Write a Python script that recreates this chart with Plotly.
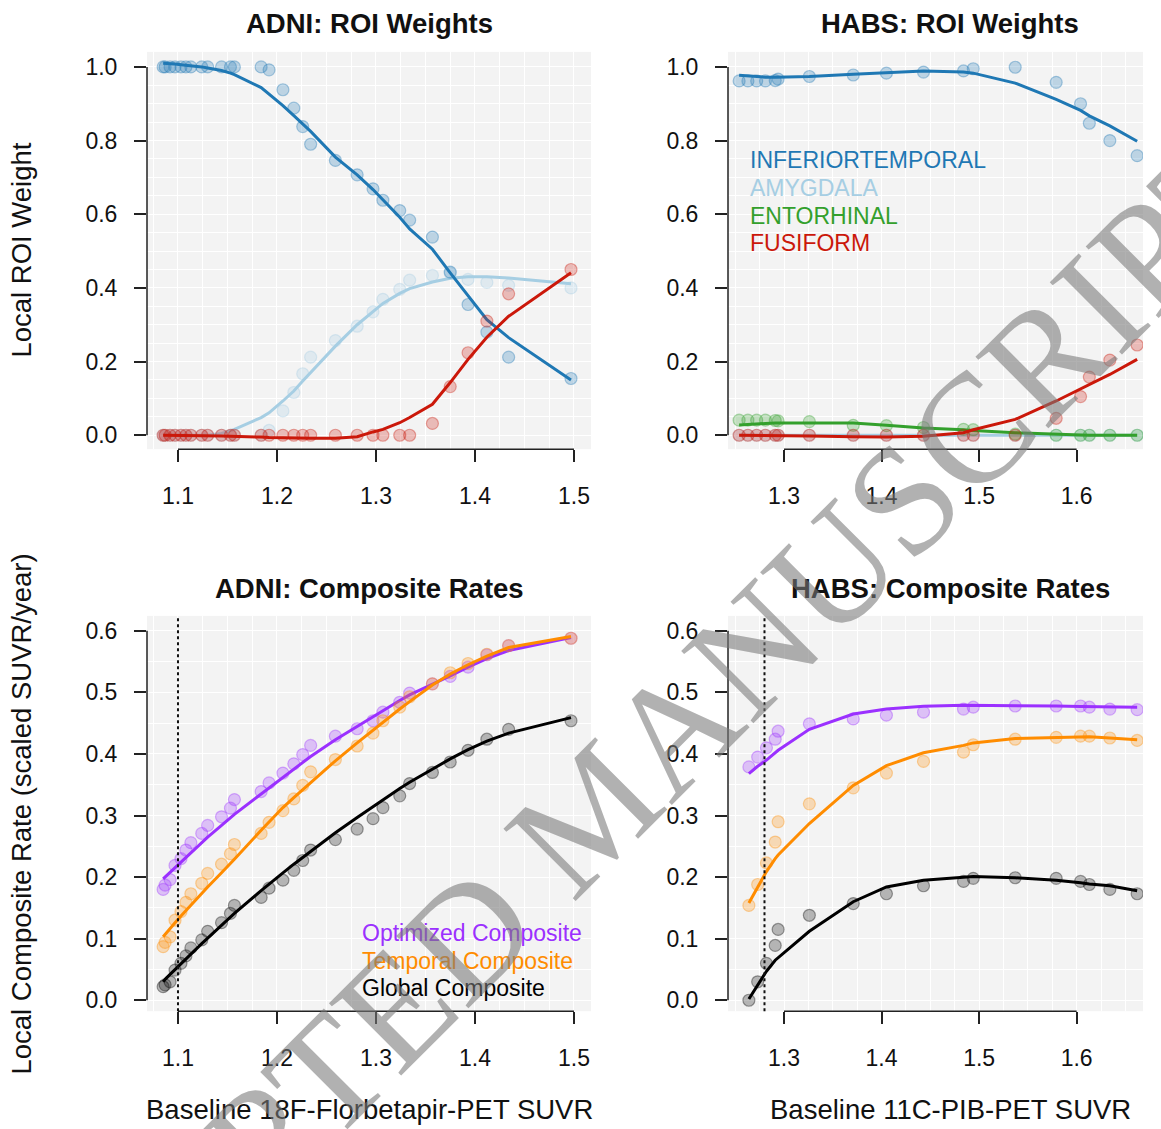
import plotly.graph_objects as go

W, H = 1161, 1129

# ---------------- data ----------------
adni_x = [1.085, 1.087, 1.092, 1.097, 1.103, 1.108, 1.113, 1.124, 1.130, 1.144,
          1.153, 1.157, 1.184, 1.192, 1.206, 1.217, 1.226, 1.234, 1.259, 1.281,
          1.297, 1.307, 1.324, 1.334, 1.357, 1.375, 1.393, 1.412, 1.434, 1.497]

adni_it_pts = [1.000, 1.000, 1.000, 1.000, 1.000, 1.000, 1.000, 1.000, 1.000, 1.000,
               1.000, 1.000, 1.000, 0.992, 0.938, 0.888, 0.838, 0.790, 0.746, 0.707,
               0.669, 0.638, 0.610, 0.584, 0.538, 0.443, 0.355, 0.280, 0.212, 0.154]
adni_it_fit = [1.010, 1.010, 1.009, 1.008, 1.006, 1.005, 1.003, 1.000, 0.997, 0.990,
               0.983, 0.979, 0.944, 0.927, 0.895, 0.868, 0.845, 0.825, 0.755, 0.707,
               0.667, 0.640, 0.592, 0.560, 0.505, 0.441, 0.378, 0.314, 0.265, 0.150]
adni_amy_pts = [0.000, 0.000, 0.000, 0.000, 0.000, 0.000, 0.000, 0.000, 0.000, 0.000,
                0.000, 0.000, 0.000, 0.013, 0.066, 0.116, 0.167, 0.212, 0.257, 0.296,
                0.335, 0.369, 0.396, 0.421, 0.434, 0.440, 0.423, 0.415, 0.407, 0.400]
adni_amy_fit = [0.000, 0.000, 0.000, 0.000, 0.000, 0.000, 0.000, 0.000, 0.000, 0.005,
                0.012, 0.016, 0.048, 0.061, 0.093, 0.120, 0.147, 0.170, 0.242, 0.300,
                0.336, 0.358, 0.385, 0.398, 0.416, 0.426, 0.430, 0.430, 0.427, 0.411]
adni_fus_pts = [0.000, 0.000, 0.000, 0.000, 0.000, 0.000, 0.000, 0.000, 0.000, 0.000,
                0.000, 0.000, 0.000, 0.000, 0.000, 0.000, 0.000, 0.000, 0.000, 0.000,
                0.000, 0.000, 0.000, 0.000, 0.032, 0.132, 0.224, 0.310, 0.384, 0.450]
adni_fus_fit = [0.000, 0.000, 0.000, 0.000, 0.000, 0.000, 0.000, 0.000, 0.000, -0.002,
                -0.003, -0.003, -0.005, -0.006, -0.007, -0.008, -0.008, -0.008, -0.008, -0.004,
                0.009, 0.016, 0.034, 0.048, 0.084, 0.143, 0.206, 0.266, 0.323, 0.441]

adni_opt_pts = [0.180, 0.187, 0.196, 0.219, 0.230, 0.244, 0.256, 0.271, 0.284, 0.298,
                0.312, 0.326, 0.339, 0.353, 0.369, 0.384, 0.399, 0.414, 0.429, 0.441,
                0.454, 0.468, 0.484, 0.499, 0.514, 0.526, 0.541, 0.561, 0.576, 0.588]
adni_opt_fit = [0.197, 0.200, 0.207, 0.215, 0.224, 0.232, 0.240, 0.256, 0.265, 0.284,
                0.296, 0.302, 0.335, 0.345, 0.362, 0.375, 0.386, 0.396, 0.423, 0.445,
                0.461, 0.471, 0.487, 0.496, 0.513, 0.527, 0.541, 0.555, 0.568, 0.589]
adni_tmp_pts = [0.087, 0.094, 0.103, 0.130, 0.144, 0.159, 0.173, 0.190, 0.206, 0.221,
                0.238, 0.253, 0.271, 0.289, 0.308, 0.327, 0.349, 0.371, 0.391, 0.413,
                0.434, 0.454, 0.476, 0.493, 0.514, 0.532, 0.547, 0.562, 0.576, 0.588]
adni_tmp_fit = [0.103, 0.107, 0.117, 0.126, 0.137, 0.146, 0.155, 0.174, 0.184, 0.207,
                0.222, 0.229, 0.276, 0.290, 0.313, 0.329, 0.342, 0.354, 0.389, 0.418,
                0.439, 0.452, 0.473, 0.485, 0.512, 0.530, 0.545, 0.559, 0.573, 0.591]
adni_glb_pts = [0.022, 0.025, 0.030, 0.049, 0.060, 0.072, 0.085, 0.098, 0.112, 0.126,
                0.141, 0.154, 0.167, 0.182, 0.195, 0.211, 0.227, 0.244, 0.261, 0.278,
                0.295, 0.313, 0.332, 0.352, 0.370, 0.387, 0.406, 0.424, 0.440, 0.454]
adni_glb_fit = [0.030, 0.034, 0.042, 0.050, 0.059, 0.067, 0.075, 0.092, 0.101, 0.122,
                0.135, 0.141, 0.178, 0.189, 0.207, 0.221, 0.232, 0.242, 0.272, 0.297,
                0.315, 0.326, 0.344, 0.354, 0.376, 0.392, 0.407, 0.421, 0.434, 0.459]

habs_x_roi = [1.254, 1.263, 1.272, 1.281, 1.291, 1.294, 1.326, 1.371, 1.405, 1.443,
              1.484, 1.494, 1.537, 1.579, 1.604, 1.613, 1.634, 1.662]
habs_it_pts = [0.962, 0.962, 0.962, 0.962, 0.963, 0.967, 0.974, 0.978, 0.983, 0.986,
               0.989, 0.995, 0.999, 0.958, 0.900, 0.847, 0.800, 0.759]
habs_it_fit = [0.977, 0.975, 0.973, 0.972, 0.972, 0.972, 0.974, 0.980, 0.985, 0.989,
               0.986, 0.983, 0.956, 0.912, 0.882, 0.867, 0.840, 0.798]
habs_amy_pts = [0.000, 0.000, 0.000, 0.000, 0.000, 0.000, 0.000, 0.000, 0.000, 0.000,
                0.000, 0.000, 0.000, 0.000, 0.000, 0.000, 0.000, 0.000]
habs_amy_fit = [0.000, 0.000, 0.000, 0.000, 0.000, 0.000, 0.000, -0.001, -0.002, -0.002,
                -0.001, 0.000, 0.000, 0.000, 0.000, 0.000, 0.000, 0.000]
habs_ent_pts = [0.041, 0.041, 0.041, 0.041, 0.040, 0.039, 0.037, 0.027, 0.026, 0.021,
                0.016, 0.015, 0.003, 0.000, 0.000, 0.000, 0.000, 0.000]
habs_ent_fit = [0.028, 0.030, 0.031, 0.032, 0.033, 0.033, 0.035, 0.033, 0.027, 0.020,
                0.015, 0.013, 0.007, 0.002, 0.001, 0.000, 0.000, 0.000]
habs_fus_pts = [0.000, 0.000, 0.000, 0.000, 0.000, 0.000, 0.000, 0.000, 0.000, 0.000,
                0.000, 0.000, 0.000, 0.046, 0.105, 0.158, 0.204, 0.245]
habs_fus_fit = [0.000, 0.000, 0.000, -0.001, -0.001, -0.001, -0.002, -0.004, -0.005, -0.003,
                0.007, 0.015, 0.043, 0.093, 0.125, 0.138, 0.165, 0.206]

habs_x_rate = [1.264, 1.273, 1.282, 1.291, 1.294, 1.326, 1.371, 1.405, 1.443, 1.484,
               1.494, 1.537, 1.579, 1.604, 1.613, 1.634, 1.662]
habs_opt_pts = [0.379, 0.395, 0.410, 0.424, 0.437, 0.449, 0.457, 0.463, 0.468, 0.473,
                0.476, 0.478, 0.478, 0.478, 0.476, 0.473, 0.472]
habs_opt_fit = [0.368, 0.380, 0.390, 0.402, 0.406, 0.440, 0.465, 0.473, 0.4775, 0.479,
                0.479, 0.479, 0.478, 0.477, 0.477, 0.476, 0.476]
habs_tmp_pts = [0.154, 0.188, 0.223, 0.257, 0.290, 0.319, 0.345, 0.369, 0.388, 0.403,
                0.415, 0.424, 0.427, 0.429, 0.429, 0.426, 0.422]
habs_tmp_fit = [0.158, 0.184, 0.209, 0.230, 0.236, 0.287, 0.349, 0.381, 0.402, 0.414,
                0.418, 0.425, 0.427, 0.428, 0.428, 0.426, 0.423]
habs_glb_pts = [0.000, 0.030, 0.060, 0.089, 0.115, 0.138, 0.157, 0.173, 0.186, 0.193,
                0.198, 0.199, 0.198, 0.193, 0.188, 0.180, 0.173]
habs_glb_fit = [0.002, 0.025, 0.047, 0.065, 0.069, 0.112, 0.160, 0.184, 0.195, 0.200,
                0.201, 0.199, 0.195, 0.191, 0.189, 0.186, 0.178]

adni_threshold = 1.10
habs_threshold = 1.28

roi_names = ["INFERIORTEMPORAL", "AMYGDALA", "ENTORHINAL", "FUSIFORM"]
composite_names = ["Optimized Composite", "Temporal Composite", "Global Composite"]

# ---------------- styles ----------------
C_IT = "#1f78b4"
C_AMY = "#a6cee3"
C_ENT = "#33a02c"
C_FUS = "#cb180a"
C_OPT = "#9b30ff"
C_TMP = "#ff8c00"
C_GLB = "#000000"
FONT = "Liberation Sans, Arial, Helvetica, sans-serif"
TICK_SIZE = 23


def rgba(hx, a):
    hx = hx.lstrip("#")
    r, g, b = int(hx[0:2], 16), int(hx[2:4], 16), int(hx[4:6], 16)
    return f"rgba({r},{g},{b},{a})"


fig = go.Figure()


def add_series(xs, pts, fit, color, xa, ya):
    fig.add_trace(go.Scatter(
        x=xs, y=pts, mode="markers", xaxis=xa, yaxis=ya, showlegend=False,
        marker=dict(size=12, color=rgba(color, 0.26),
                    line=dict(color=rgba(color, 0.36), width=1.2)),
        hoverinfo="skip"))
    fig.add_trace(go.Scatter(
        x=xs, y=fit, mode="lines", xaxis=xa, yaxis=ya, showlegend=False,
        line=dict(color=color, width=3), hoverinfo="skip"))


# top-left: ADNI ROI weights
add_series(adni_x, adni_amy_pts, adni_amy_fit, C_AMY, "x", "y")
add_series(adni_x, adni_it_pts, adni_it_fit, C_IT, "x", "y")
add_series(adni_x, adni_fus_pts, adni_fus_fit, C_FUS, "x", "y")
# top-right: HABS ROI weights
add_series(habs_x_roi, habs_amy_pts, habs_amy_fit, C_AMY, "x2", "y2")
add_series(habs_x_roi, habs_it_pts, habs_it_fit, C_IT, "x2", "y2")
add_series(habs_x_roi, habs_ent_pts, habs_ent_fit, C_ENT, "x2", "y2")
add_series(habs_x_roi, habs_fus_pts, habs_fus_fit, C_FUS, "x2", "y2")
# bottom-left: ADNI composite rates
add_series(adni_x, adni_opt_pts, adni_opt_fit, C_OPT, "x3", "y3")
add_series(adni_x, adni_tmp_pts, adni_tmp_fit, C_TMP, "x3", "y3")
add_series(adni_x, adni_glb_pts, adni_glb_fit, C_GLB, "x3", "y3")
# bottom-right: HABS composite rates
add_series(habs_x_rate, habs_opt_pts, habs_opt_fit, C_OPT, "x4", "y4")
add_series(habs_x_rate, habs_tmp_pts, habs_tmp_fit, C_TMP, "x4", "y4")
add_series(habs_x_rate, habs_glb_pts, habs_glb_fit, C_GLB, "x4", "y4")

# ---------------- axes ----------------
XL = [147 / W, 591 / W]
XR = [728 / W, 1143 / W]
YT = [1 - 450 / H, 1 - 52 / H]
YB = [1 - 1013 / H, 1 - 617 / H]


def xaxis(domain, rng, anchor):
    return dict(domain=domain, range=rng, anchor=anchor, showline=False, zeroline=False,
                tick0=1.0, dtick=0.1, tickformat=".1f", ticks="outside", ticklen=12,
                tickwidth=1.5, tickcolor="#222", ticklabelstandoff=14,
                tickfont=dict(family=FONT, size=TICK_SIZE, color="#111"),
                showgrid=True, gridcolor="white", gridwidth=1,
                minor=dict(dtick=0.025, tick0=1.0, showgrid=True, gridcolor="white",
                           gridwidth=1, ticks=""))


def yaxis(domain, rng, anchor, dtick):
    return dict(domain=domain, range=rng, anchor=anchor, showline=False, zeroline=False,
                tick0=0, dtick=dtick, tickformat=".1f", ticks="outside", ticklen=12,
                tickwidth=1.5, tickcolor="#222", ticklabelstandoff=12,
                tickfont=dict(family=FONT, size=TICK_SIZE, color="#111"),
                showgrid=True, gridcolor="white", gridwidth=1,
                minor=dict(dtick=0.05, tick0=0, showgrid=True, gridcolor="white",
                           gridwidth=1, ticks=""))


ADNI_XR = [1.0687, 1.5172]
HABS_XR = [1.2426, 1.668]
TOP_YR = [-0.0379, 1.0407]
BOT_YR = [-0.0178, 0.6243]

fig.update_layout(
    xaxis=xaxis(XL, ADNI_XR, "y"), yaxis=yaxis(YT, TOP_YR, "x", 0.2),
    xaxis2=xaxis(XR, HABS_XR, "y2"), yaxis2=yaxis(YT, TOP_YR, "x2", 0.2),
    xaxis3=xaxis(XL, ADNI_XR, "y3"), yaxis3=yaxis(YB, BOT_YR, "x3", 0.1),
    xaxis4=xaxis(XR, HABS_XR, "y4"), yaxis4=yaxis(YB, BOT_YR, "x4", 0.1),
)

shapes = []
# R-style axis lines spanning first to last tick
axis_specs = [("x", "y", 1.1, 1.5, 0.0, 1.0), ("x2", "y2", 1.3, 1.6, 0.0, 1.0),
              ("x3", "y3", 1.1, 1.5, 0.0, 0.6), ("x4", "y4", 1.3, 1.6, 0.0, 0.6)]
for xa, ya, x0, x1, y0, y1 in axis_specs:
    shapes.append(dict(type="line", xref=xa, yref=f"{ya} domain", x0=x0, x1=x1, y0=0, y1=0,
                       line=dict(color="#222", width=1.5)))
    shapes.append(dict(type="line", xref=f"{xa} domain", yref=ya, x0=0, x1=0, y0=y0, y1=y1,
                       line=dict(color="#222", width=1.5)))
# threshold dotted lines
shapes.append(dict(type="line", xref="x3", yref="y3 domain", x0=adni_threshold, x1=adni_threshold,
                   y0=0, y1=1, line=dict(color="#111", width=2, dash="dot")))
shapes.append(dict(type="line", xref="x4", yref="y4 domain", x0=habs_threshold, x1=habs_threshold,
                   y0=0, y1=1, line=dict(color="#111", width=2, dash="dot")))

ann = []


def txt(text, x, y, size=27.5, color="#111", angle=0, xref="paper", yref="paper",
        xanchor="center", family=FONT):
    ann.append(dict(text=text, x=x, y=y, xref=xref, yref=yref, showarrow=False,
                    xanchor=xanchor, yanchor="middle", textangle=angle,
                    font=dict(family=family, size=size, color=color)))


txt("<b>ADNI: ROI Weights</b>", 369 / W, 1 - 24 / H)
txt("<b>HABS: ROI Weights</b>", 950 / W, 1 - 24 / H)
txt("<b>ADNI: Composite Rates</b>", 369 / W, 1 - 590 / H)
txt("<b>HABS: Composite Rates</b>", 950 / W, 1 - 590 / H)
txt("Local ROI Weight", 22 / W, 1 - 251 / H, angle=-90)
txt("Local Composite Rate (scaled SUVR/year)", 22 / W, 1 - 816 / H, angle=-90)
txt("Baseline 18F-Florbetapir-PET SUVR", 369 / W, 1 - 1111 / H)
txt("Baseline 11C-PIB-PET SUVR", 950 / W, 1 - 1111 / H)

# ROI legend (top-right panel)
for name, col, yv in zip(roi_names, [C_IT, C_AMY, C_ENT, C_FUS], [0.746, 0.671, 0.596, 0.522]):
    txt(name, 1.2635, yv, size=TICK_SIZE, color=col, xref="x2", yref="y2", xanchor="left")
# composite legend (bottom-left panel)
for name, col, yv in zip(composite_names, [C_OPT, C_TMP, C_GLB], [0.1097, 0.0637, 0.0194]):
    txt(name, 1.2843, yv, size=TICK_SIZE, color=col, xref="x3", yref="y3", xanchor="left")

# watermark
txt("ACCEPTED MANUSCRIPT", 592 / W, 1 - 812 / H, size=156, color="rgba(120,120,120,0.58)",
    angle=-45, family="Liberation Serif, Times New Roman, serif")

fig.update_layout(
    width=W, height=H, margin=dict(l=0, r=0, t=0, b=0),
    paper_bgcolor="white", plot_bgcolor="#f3f3f3",
    shapes=shapes, annotations=ann, showlegend=False,
)

fig.write_html("out.html")
